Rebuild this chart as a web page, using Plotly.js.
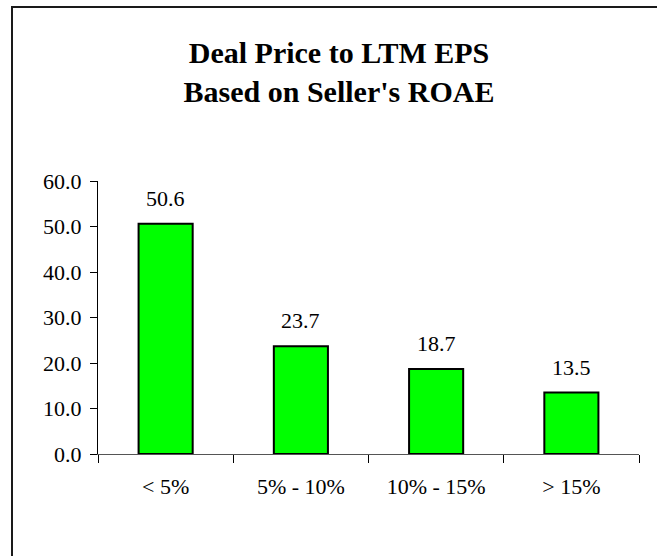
<!DOCTYPE html>
<html>
<head>
<meta charset="utf-8">
<script src="https://cdn.plot.ly/plotly-3.0.1.min.js"></script>
<style>
  html, body { margin: 0; padding: 0; background: #ffffff; }
  #chart { width: 657px; height: 556px; }
</style>
</head>
<body>
<div id="chart"></div>
<script>
var categories = ['< 5%', '5% - 10%', '10% - 15%', '> 15%'];
var values = [50.6, 23.7, 18.7, 13.5];
var yTickValues = [0, 10, 20, 30, 40, 50, 60];
var chartTitle = "Deal Price to LTM EPS<br>Based on Seller's ROAE";

var FONT = '"Liberation Serif", "Times New Roman", Times, serif';
var W = 657, H = 556;
var L = 98, R = 18, T = 181, B = 102;
var pw = W - L - R, ph = H - T - B;
function px2x(p) { return (p - L) / pw; }
function py2y(p) { return (H - B - p) / ph; }

var trace = {
  type: 'bar',
  x: categories,
  y: values,
  marker: { color: '#00ff00', line: { color: '#000000', width: 2 } },
  hoverinfo: 'x+y'
};

var annotations = categories.map(function (c, i) {
  return {
    x: c, y: values[i], xref: 'x', yref: 'y',
    text: values[i].toFixed(1),
    showarrow: false, yanchor: 'bottom', yshift: 11,
    font: { family: FONT, size: 22, color: '#000000' }
  };
});

var layout = {
  width: W, height: H,
  margin: { l: L, r: R, t: T, b: B, pad: 0 },
  paper_bgcolor: '#ffffff', plot_bgcolor: '#ffffff',
  showlegend: false,
  bargap: 0.6,
  font: { family: FONT, size: 22, color: '#000000' },
  title: {
    text: chartTitle,
    font: { family: FONT, size: 30, color: '#000000', weight: 'bold' },
    xref: 'container', x: 339 / W, xanchor: 'center',
    yref: 'container', y: 1 - 63 / H, yanchor: 'top'
  },
  xaxis: {
    type: 'category',
    showgrid: false, zeroline: false,
    showline: true, linecolor: '#555555', linewidth: 1,
    ticks: 'outside', tickson: 'boundaries', ticklen: 8, tickcolor: '#000000', tickwidth: 1,
    tickfont: { family: FONT, size: 22, color: '#000000' },
    ticklabelstandoff: 13,
    fixedrange: true
  },
  yaxis: {
    range: [0, 60],
    tickvals: yTickValues,
    tickformat: '.1f',
    showgrid: false, zeroline: false,
    showline: true, linecolor: '#000000', linewidth: 1,
    ticks: 'outside', ticklen: 7, tickcolor: '#000000', tickwidth: 1,
    tickfont: { family: FONT, size: 22, color: '#000000' },
    ticklabelstandoff: 4,
    fixedrange: true
  },
  annotations: annotations,
  shapes: [{
    type: 'rect', xref: 'paper', yref: 'paper',
    x0: px2x(12), x1: px2x(720), y0: py2y(620), y1: py2y(7),
    line: { color: '#1a1a1a', width: 2 }, fillcolor: 'rgba(0,0,0,0)', layer: 'below'
  }]
};

Plotly.newPlot('chart', [trace], layout, { displayModeBar: false, staticPlot: true });
</script>
</body>
</html>
